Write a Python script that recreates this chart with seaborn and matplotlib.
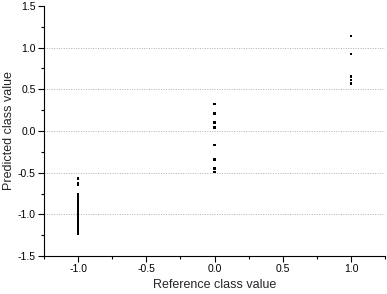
import matplotlib
matplotlib.use("Agg")
import matplotlib.pyplot as plt
from matplotlib.ticker import MultipleLocator, FormatStrFormatter
import pandas as pd
import seaborn as sns

# predicted values per reference class
pred_neg = [-0.57, -0.63, -0.65, -0.76, -0.78, -0.79, -0.80, -0.81, -0.82, -0.83,
            -0.84, -0.85, -0.86, -0.87, -0.88, -0.89, -0.90, -0.91, -0.92, -0.93,
            -0.94, -0.95, -0.96, -0.97, -0.98, -0.99, -1.00, -1.01, -1.02, -1.03,
            -1.04, -1.05, -1.06, -1.07, -1.08, -1.09, -1.10, -1.11, -1.12, -1.13,
            -1.14, -1.15, -1.16, -1.17, -1.18, -1.19, -1.20, -1.21, -1.23]
pred_zero = [0.32, 0.21, 0.10, 0.04, -0.17, -0.34, -0.45, -0.49]
pred_pos = [1.14, 0.92, 0.655, 0.61, 0.57]

ref = [-1.0] * len(pred_neg) + [0.0] * len(pred_zero) + [1.0] * len(pred_pos)
df = pd.DataFrame({"ref": ref, "pred": pred_neg + pred_zero + pred_pos})

sns.set_theme(style="white")
plt.rcParams["font.family"] = ["Liberation Sans", "DejaVu Sans"]

fig = plt.figure(figsize=(3.87, 2.94), dpi=100)
ax = fig.add_axes([0.114, 0.129, 0.881, 0.851])
sns.scatterplot(data=df, x="ref", y="pred", marker="s", s=3, color="black",
                edgecolor="none", ax=ax)

ax.set_xlim(-1.25, 1.25)
ax.set_ylim(-1.5, 1.5)
ax.xaxis.set_major_locator(MultipleLocator(0.5))
ax.xaxis.set_minor_locator(MultipleLocator(0.25))
ax.yaxis.set_major_locator(MultipleLocator(0.5))
ax.yaxis.set_minor_locator(MultipleLocator(0.25))
ax.xaxis.set_major_formatter(FormatStrFormatter("%.1f"))
ax.yaxis.set_major_formatter(FormatStrFormatter("%.1f"))

for yv in [-1.0, -0.5, 0.0, 0.5, 1.0]:
    ax.axhline(yv, color="#b0b0b0", linestyle=(0, (1, 1.5)), linewidth=0.7, zorder=0)

ax.spines["top"].set_visible(False)
ax.spines["right"].set_visible(False)
for s in ["left", "bottom"]:
    ax.spines[s].set_color("black")
    ax.spines[s].set_linewidth(0.8)

ax.tick_params(which="major", direction="out", length=4, width=0.8, colors="black",
               labelsize=7.5, pad=2, bottom=True, left=True)
ax.tick_params(which="minor", direction="out", length=2, width=0.8, colors="black",
               bottom=True, left=True)

ax.set_xlabel("Reference class value", fontsize=9, labelpad=3)
ax.set_ylabel("Predicted class value", fontsize=9, labelpad=2)

fig.savefig("out.png", dpi=100)
